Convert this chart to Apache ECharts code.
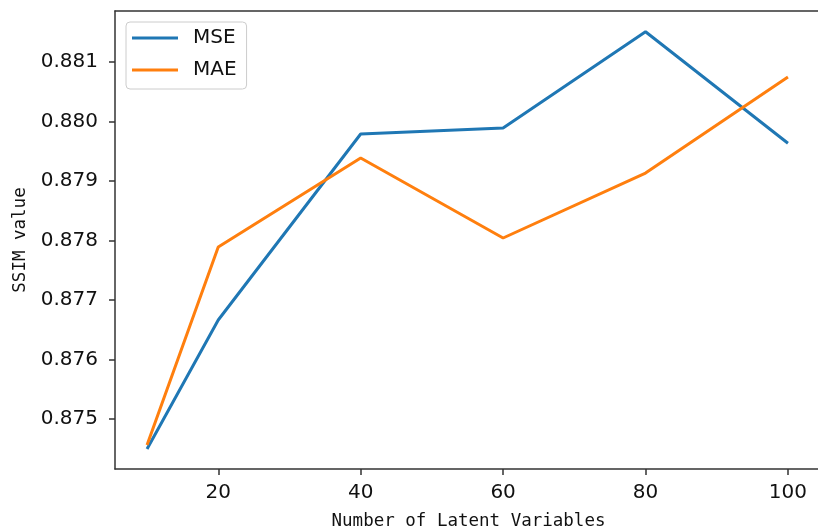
<!DOCTYPE html>
<html>
<head>
<meta charset="utf-8">
<script src="https://cdn.jsdelivr.net/npm/echarts@6/dist/echarts.min.js"></script>
<style>
html, body { margin: 0; padding: 0; background: #fff; }
#main { width: 818px; height: 531px; }
</style>
</head>
<body>
<div id="main"></div>
<script>
// number of latent variables
var latent = [10, 20, 40, 60, 80, 100];
// SSIM values
var mse = [0.874496, 0.876664, 0.879790, 0.879891, 0.881509, 0.879634];
var mae = [0.874563, 0.877891, 0.879387, 0.878042, 0.879134, 0.880748];
var xTicks = [20, 40, 60, 80, 100];
var yTicks = [0.875, 0.876, 0.877, 0.878, 0.879, 0.880, 0.881];

function pairs(xs, ys){
	var out = [];
	for(var i = 0; i < xs.length; i++){
		out.push([xs[i], ys[i]]);
	}
	return out;
}

function spine(){
	return {show: true, lineStyle: {color: '#333', width: 1.5}};
}

var chart = echarts.init(document.getElementById('main'));

// the figure is cropped just before its right spine
var xMin = 5.5, xMax = 104.22;

chart.setOption({
	animation: false,
	grid: {left: 115, top: 11, right: 0, height: 458, outerBoundsMode: 'none'},
	legend: {
		orient: 'vertical',
		left: 126,
		top: 22,
		padding: [6, 10, 9, 6],
		itemGap: 12,
		itemWidth: 46,
		itemHeight: 3,
		icon: 'rect',
		borderColor: '#ccc',
		borderWidth: 1,
		borderRadius: 4,
		backgroundColor: 'rgba(255,255,255,0.8)',
		textStyle: {color: '#111', fontFamily: 'DejaVu Sans', fontSize: 20, padding: [0, 0, 0, 10]},
		data: ['MSE', 'MAE']
	},
	xAxis: [
		{
			type: 'value',
			min: xMin,
			max: xMax,
			name: 'Number of Latent Variables',
			nameLocation: 'middle',
			nameGap: 43,
			nameTextStyle: {color: '#111', fontFamily: 'DejaVu Sans Mono', fontSize: 17.5, padding: [0, 0, 0, 4]},
			axisLine: spine(),
			axisTick: {show: true, length: 6, lineStyle: {color: '#333', width: 1.5}, customValues: xTicks},
			axisLabel: {margin: 14, customValues: xTicks, color: '#111', fontFamily: 'DejaVu Sans', fontSize: 20},
			splitLine: {show: false}
		},
		{
			// top spine only
			type: 'value',
			position: 'top',
			min: xMin,
			max: xMax,
			axisLine: spine(),
			axisTick: {show: false},
			axisLabel: {show: false},
			splitLine: {show: false}
		}
	],
	yAxis: {
		type: 'value',
		min: 0.87416,
		max: 0.881857,
		name: 'SSIM value',
		nameLocation: 'middle',
		nameRotate: 90,
		nameGap: 84,
		nameTextStyle: {color: '#111', fontFamily: 'DejaVu Sans Mono', fontSize: 17.5},
		axisLine: spine(),
		axisTick: {show: true, length: 6, lineStyle: {color: '#333', width: 1.5}, customValues: yTicks},
		axisLabel: {
			margin: 17,
			customValues: yTicks,
			color: '#111',
			fontFamily: 'DejaVu Sans',
			fontSize: 20,
			formatter: function(v){ return v.toFixed(3); }
		},
		splitLine: {show: false}
	},
	series: [
		{
			name: 'MSE',
			type: 'line',
			symbol: 'none',
			color: '#1f77b4',
			lineStyle: {width: 3, color: '#1f77b4'},
			data: pairs(latent, mse)
		},
		{
			name: 'MAE',
			type: 'line',
			symbol: 'none',
			color: '#ff7f0e',
			lineStyle: {width: 3, color: '#ff7f0e'},
			data: pairs(latent, mae)
		}
	]
});
</script>
</body>
</html>
